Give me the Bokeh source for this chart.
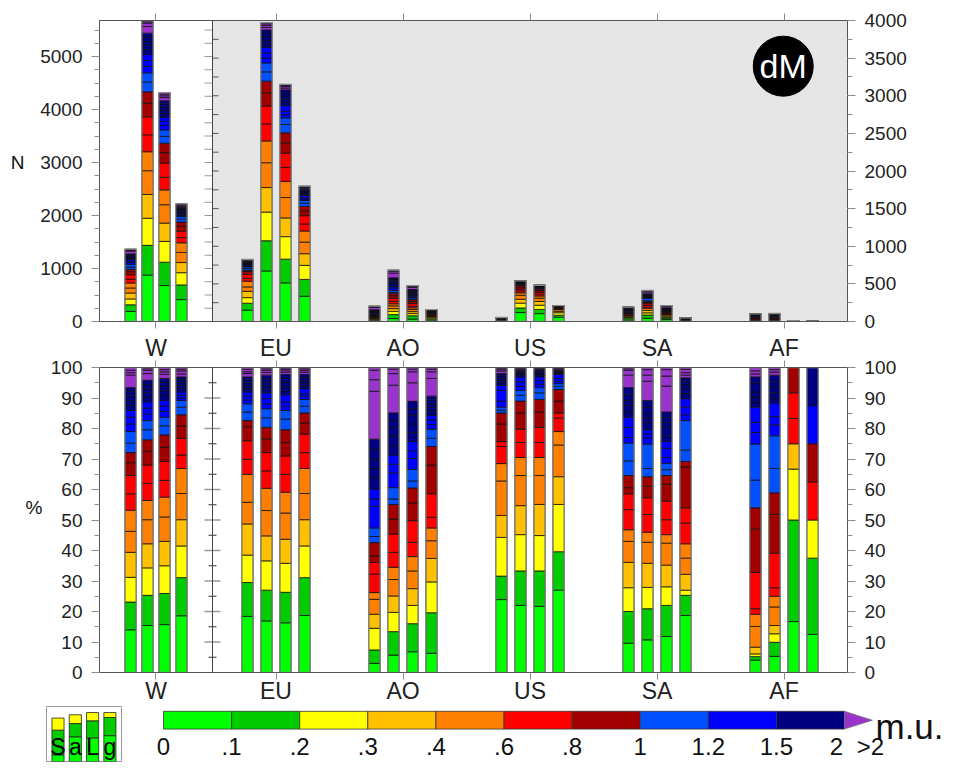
import numpy as np
from bokeh.plotting import figure
from bokeh.models import (Range1d, LinearAxis, FixedTicker, SingleIntervalTicker,
                          BoxAnnotation, Span, Label, ColumnDataSource)
from bokeh.layouts import column, row
from bokeh.embed import file_html
from bokeh.resources import INLINE
from bokeh.core.properties import value

# ---------------------------------------------------------------- data
regions = ["W", "EU", "AO", "US", "SA", "AF"]

# number of cases per bar (4 bars per region)
N_W = [1366, 5680, 4320, 2220]
N_EU = [824, 3973, 3150, 1798]
N_AO = [203, 682, 478, 159]
N_US = [53, 540, 482, 212]
N_SA = [190, 412, 212, 49]
N_AF = [102, 106, 12, 8]

# upper edges of the m.u. bins (last bin: > 4)
bin_edges = [.1, .2, .3, .4, .5, .6, .7, .8, .9, 1.0, 1.1, 1.2, 1.3, 1.4, 1.5,
             1.6, 1.7, 1.8, 1.9, 2.0, 2.5, 3.0, 4.0]

# cumulative percentage of cases at each bin upper edge
cum_W = [
    [14.0, 23.1, 31.2, 39.4, 46.3, 53.2, 58.6, 64.6, 68.8, 72.1, 75.2, 79.0, 81.5, 83.7, 85.9, 87.6, 89.2, 90.7, 92.1, 93.4, 97.5, 98.3, 99.1],
    [15.4, 25.3, 34.3, 42.2, 50.1, 56.4, 62.0, 68.0, 72.5, 76.3, 79.6, 82.6, 84.8, 86.7, 88.7, 90.3, 91.8, 93.0, 94.4, 95.8, 98.0, 99.1, 99.6],
    [15.7, 25.9, 35.0, 43.0, 51.0, 57.5, 63.0, 69.2, 73.8, 77.9, 80.9, 83.7, 85.6, 87.4, 89.2, 90.8, 92.4, 93.8, 95.1, 96.4, 97.8, 98.6, 99.3],
    [18.6, 31.1, 41.5, 50.1, 58.7, 66.9, 71.3, 76.8, 80.9, 84.5, 87.0, 89.2, 90.0, 90.9, 92.0, 93.2, 94.2, 95.1, 96.0, 96.9, 97.9, 98.9, 99.5],
]
cum_EU = [
    [18.4, 29.5, 38.5, 48.7, 55.8, 65.0, 69.9, 76.0, 80.6, 82.6, 85.4, 88.1, 89.4, 90.7, 92.0, 93.0, 94.0, 95.0, 96.0, 96.9, 98.0, 98.6, 99.4],
    [16.9, 27.0, 36.6, 44.8, 53.1, 60.4, 66.1, 72.1, 76.5, 80.4, 83.5, 86.5, 88.1, 89.8, 91.7, 92.9, 94.0, 95.2, 96.3, 97.5, 98.4, 99.1, 99.6],
    [16.3, 26.3, 35.8, 43.7, 52.3, 59.1, 65.0, 71.0, 75.4, 79.6, 83.1, 85.9, 87.3, 88.7, 91.1, 92.4, 93.8, 95.1, 96.4, 97.7, 98.5, 99.2, 99.6],
    [18.7, 31.1, 41.5, 50.1, 58.7, 66.9, 72.1, 78.2, 81.8, 85.1, 87.3, 89.5, 90.6, 91.4, 93.1, 94.0, 94.9, 95.8, 96.8, 97.7, 98.5, 99.1, 99.6],
]
cum_AO = [
    [3.0, 7.4, 14.5, 19.1, 24.0, 26.2, 32.3, 36.1, 38.2, 42.6, 44.6, 47.4, 54.5, 56.9, 60.2, 63.9, 66.9, 69.9, 73.2, 76.5, 92.2, 96.0, 99.1],
    [5.7, 13.4, 19.7, 25.1, 30.5, 34.5, 39.4, 45.4, 50.3, 55.1, 56.9, 60.6, 65.5, 68.3, 71.3, 74.3, 77.6, 80.4, 82.6, 85.1, 94.2, 98.0, 99.5],
    [6.8, 16.0, 22.0, 27.5, 33.3, 38.0, 42.7, 49.8, 55.6, 60.5, 62.8, 66.6, 70.2, 72.7, 75.7, 78.7, 81.5, 84.3, 86.5, 88.9, 95.0, 98.6, 99.5],
    [6.3, 19.6, 29.7, 37.4, 43.2, 47.4, 50.9, 58.6, 68.0, 74.1, 76.8, 79.8, 81.3, 82.8, 84.3, 85.6, 86.9, 88.1, 89.4, 90.6, 96.4, 98.6, 99.5],
]
cum_US = [
    [23.9, 31.6, 44.3, 51.5, 62.8, 68.5, 74.1, 75.7, 81.5, 85.1, 86.0, 87.0, 89.0, 92.5, 94.2, 95.0, 95.8, 96.5, 97.3, 98.0, 98.8, 99.3, 99.7],
    [22.0, 33.3, 45.2, 54.7, 64.6, 70.5, 75.4, 79.8, 85.1, 89.0, 90.9, 92.5, 93.9, 95.3, 96.9, 97.4, 97.9, 98.3, 98.7, 99.1, 99.5, 99.7, 99.9],
    [21.7, 33.3, 44.9, 55.1, 64.6, 70.5, 75.4, 80.4, 85.4, 89.5, 91.7, 93.4, 94.5, 95.7, 96.9, 97.4, 97.9, 98.4, 98.9, 99.4, 99.7, 99.9, 100.0],
    [27.0, 39.6, 55.1, 64.2, 74.6, 79.0, 83.4, 85.1, 89.0, 92.8, 93.8, 94.7, 95.5, 96.4, 97.7, 98.0, 98.3, 98.6, 98.9, 99.1, 99.5, 99.7, 99.9],
]
cum_SA = [
    [9.6, 20.0, 27.8, 36.1, 43.0, 46.8, 53.4, 58.6, 60.6, 64.6, 69.4, 75.2, 77.1, 80.4, 83.7, 85.4, 87.6, 89.2, 91.1, 93.4, 97.5, 99.1, 99.6],
    [10.7, 20.9, 27.9, 35.8, 42.7, 46.0, 51.8, 57.3, 61.1, 64.2, 66.9, 74.9, 76.9, 78.2, 79.6, 81.9, 83.5, 84.9, 86.9, 89.2, 95.5, 97.5, 99.3],
    [11.8, 22.0, 28.1, 35.2, 42.4, 45.2, 50.1, 56.2, 61.7, 64.6, 66.5, 68.6, 70.5, 73.5, 75.7, 77.6, 80.4, 82.0, 83.7, 85.4, 93.9, 97.2, 99.3],
    [18.7, 25.3, 27.0, 32.2, 37.5, 42.2, 49.0, 54.0, 67.4, 69.2, 72.9, 82.6, 84.5, 87.0, 89.8, 91.4, 93.1, 94.3, 95.5, 96.6, 97.5, 98.3, 99.4],
]
cum_AF = [
    [4.1, 5.2, 6.1, 8.3, 15.1, 19.1, 20.9, 32.8, 47.0, 54.0, 63.1, 74.9, 78.7, 82.0, 87.0, 88.7, 90.3, 92.0, 95.0, 96.9, 97.9, 98.9, 100.0],
    [5.3, 9.9, 12.7, 15.4, 21.5, 25.0, 27.8, 39.1, 51.8, 58.9, 66.9, 77.6, 81.2, 83.9, 88.4, 90.0, 91.7, 93.6, 95.5, 97.5, 98.5, 99.3, 100.0],
    [16.7, 50.0, 66.7, 75.0, 75.0, 75.0, 83.3, 91.7, 91.7, 100.0, 100.0, 100.0, 100.0, 100.0, 100.0, 100.0, 100.0, 100.0, 100.0, 100.0, 100.0, 100.0, 100.0],
    [12.5, 37.5, 50.0, 50.0, 50.0, 50.0, 50.0, 62.5, 62.5, 75.0, 75.0, 75.0, 87.5, 87.5, 87.5, 100.0, 100.0, 100.0, 100.0, 100.0, 100.0, 100.0, 100.0],
]

# colour classes (colour bar)
class_labels = ["0", ".1", ".2", ".3", ".4", ".6", ".8", "1", "1.2", "1.5", "2"]
class_colors = ["#00FF00", "#00CC00", "#FFFF00", "#FFC000", "#FF8000", "#FF0000",
                "#A00000", "#0050FF", "#0000FF", "#000080", "#9933CC"]
# class of every m.u. bin (24 bins)
bin_class = [0, 1, 2, 3, 4, 4, 5, 5, 6, 6, 7, 7, 8, 8, 8, 9, 9, 9, 9, 9, 10, 10, 10, 10]

# small legend inset (cumulative % of the three lowest classes)
leg_letters = ["S", "a", "L", "g"]
leg_cum = [[12, 57, 79], [45, 69, 85], [43, 74, 89], [47, 80, 89]]

N_all = [N_W, N_EU, N_AO, N_US, N_SA, N_AF]
cum_all = [cum_W, cum_EU, cum_AO, cum_US, cum_SA, cum_AF]

# ---------------------------------------------------------------- geometry
FONT = "Liberation Sans"
PX = 127.0                      # pixels per region width
W_WIDTH = 113.0 / PX            # W region is narrower
centers = [round(-W_WIDTH / 2, 4)] + [i + 0.5 for i in range(5)]
gscale = [W_WIDTH] + [1.0] * 5
BAR_STEP = 0.15
BAR_W = 0.09
offsets = [-1.5, -0.5, 0.5, 1.5]


def bar_segments(panel):
    out = {"default": dict(l=[], r=[], b=[], t=[], c=[]),
           "right": dict(l=[], r=[], b=[], t=[], c=[])}
    outl = {"default": dict(l=[], r=[], b=[], t=[]),
            "right": dict(l=[], r=[], b=[], t=[])}
    for g in range(6):
        rng = "default" if (g == 0 or panel == "bottom") else "right"
        for j in range(4):
            xc = centers[g] + offsets[j] * BAR_STEP * gscale[g]
            scale = (N_all[g][j] / 100.0) if panel == "top" else 1.0
            c = [0.0] + list(cum_all[g][j]) + [100.0]
            for k in range(len(c) - 1):
                lo, hi = c[k], c[k + 1]
                if hi - lo <= 1e-9:
                    continue
                d = out[rng]
                d["l"].append(xc - BAR_W / 2); d["r"].append(xc + BAR_W / 2)
                d["b"].append(lo * scale); d["t"].append(hi * scale)
                d["c"].append(class_colors[bin_class[k]])
            o = outl[rng]
            o["l"].append(xc - BAR_W / 2); o["r"].append(xc + BAR_W / 2)
            o["b"].append(0.0); o["t"].append(100.0 * scale)
    return out, outl


def base_fig(height, top, bottom, y_range):
    p = figure(width=971, height=height, x_range=Range1d(-W_WIDTH, 5),
               y_range=y_range, x_axis_location=None, y_axis_location=None,
               toolbar_location=None, output_backend="svg",
               min_border_left=99, min_border_right=124,
               min_border_top=top, min_border_bottom=bottom)
    p.outline_line_color = "#555555"
    p.grid.visible = False
    p.background_fill_color = "white"
    p.border_fill_color = "white"
    return p


def style_axis(ax, font_size="19px", standoff=9, tick_out=8, minor_out=5):
    ax.axis_line_color = "#555555"
    ax.major_tick_line_color = "#8c8c8c"
    ax.minor_tick_line_color = "#8c8c8c"
    ax.major_tick_out = tick_out
    ax.major_tick_in = 0
    ax.minor_tick_out = minor_out
    ax.minor_tick_in = 0
    ax.major_label_text_font = FONT
    ax.major_label_text_font_size = font_size
    ax.major_label_text_color = "#222222"
    ax.major_label_standoff = standoff


def name_axis(p, pos, text, standoff):
    """an extra, line-less left axis that only carries the axis name"""
    ax = LinearAxis(ticker=FixedTicker(ticks=[pos]),
                    major_label_overrides={pos: text})
    ax.axis_line_color = None
    ax.major_tick_line_color = None
    ax.minor_tick_line_color = None
    ax.major_tick_out = 0
    ax.major_tick_in = 0
    ax.major_label_text_font = FONT
    ax.major_label_text_font_size = "19px"
    ax.major_label_text_color = "#111111"
    ax.major_label_standoff = standoff
    p.add_layout(ax, "left")


def x_axis(p, side, labels, standoff=0):
    ax = LinearAxis(ticker=FixedTicker(ticks=centers),
                    major_label_overrides={c: (regions[i] if labels else "")
                                           for i, c in enumerate(centers)})
    if labels:
        style_axis(ax, font_size="23px", standoff=standoff, tick_out=7)
    else:
        style_axis(ax, font_size="0px", standoff=0, tick_out=7)
    p.add_layout(ax, side)


def draw_bars(p, segs, outl):
    for rng in ("default", "right"):
        if not segs[rng]["l"]:
            continue
        src = ColumnDataSource(segs[rng])
        kw = {} if rng == "default" else {"y_range_name": "right"}
        p.quad(left="l", right="r", bottom="b", top="t", fill_color="c",
               line_color="#111111", line_width=0.8, source=src, **kw)
        p.quad(left="l", right="r", bottom="b", top="t",
               source=ColumnDataSource(outl[rng]), fill_color=None,
               line_color="#8a8a8a", line_width=1.3, **kw)


# ---------------------------------------------------------------- top panel
H1 = 331
top_max = max(N_W)
p1 = base_fig(H1, 20, 10, Range1d(0, top_max))
p1.extra_y_ranges = {"right": Range1d(0, 4000)}
p1.add_layout(BoxAnnotation(left=0, fill_color="#e5e5e5", fill_alpha=1.0,
                            line_alpha=0, level="underlay"))

axl = LinearAxis(ticker=SingleIntervalTicker(interval=1000, num_minor_ticks=4))
style_axis(axl)
p1.add_layout(axl, "left")
name_axis(p1, 3000, "N", 13)
axr = LinearAxis(y_range_name="right",
                 ticker=SingleIntervalTicker(interval=500, num_minor_ticks=2))
style_axis(axr)
p1.add_layout(axr, "right")
x_axis(p1, "above", False)
x_axis(p1, "below", False)

p1.add_layout(Span(location=0, dimension="height", line_color="#444444", line_width=1))
# ticks on the W / regions divider
lt = np.arange(250, top_max, 250)
p1.segment(x0=[-8 / PX] * len(lt), x1=[0] * len(lt), y0=lt, y1=lt,
           line_color="#9a9a9a", line_width=1)
rt = np.arange(250, 4000, 250)
p1.segment(x0=[0] * len(rt), x1=[6 / PX] * len(rt), y0=rt, y1=rt,
           line_color="#555555", line_width=1, y_range_name="right")

segs, outl = bar_segments("top")
draw_bars(p1, segs, outl)

p1.scatter(x=[4.494], y=[3393], size=60, marker="circle", fill_color="black",
           line_color="black", y_range_name="right")
p1.add_layout(Label(x=4.494, y=3393, y_range_name="right", text="dM",
                    text_color="white", text_font=FONT, text_font_size="34px",
                    text_align="center", text_baseline="middle"))

# ---------------------------------------------------------------- bottom panel
H2 = 375
p2 = base_fig(H2, 36, 34, Range1d(0, 100))
for side in ("left", "right"):
    ax = LinearAxis(ticker=SingleIntervalTicker(interval=10, num_minor_ticks=2))
    style_axis(ax)
    p2.add_layout(ax, side)
name_axis(p2, 54, "%", 5)
x_axis(p2, "above", True, standoff=0)
x_axis(p2, "below", True, standoff=-2)
p2.add_layout(Span(location=0, dimension="height", line_color="#444444", line_width=1))
mt = np.arange(10, 100, 10)
p2.segment(x0=[-8 / PX] * len(mt), x1=[8 / PX] * len(mt), y0=mt, y1=mt,
           line_color="#9a9a9a", line_width=1.5)
nt = np.arange(5, 100, 10)
p2.segment(x0=[-4 / PX] * len(nt), x1=[4 / PX] * len(nt), y0=nt, y1=nt,
           line_color="#333333", line_width=1)

segs2, outl2 = bar_segments("bottom")
draw_bars(p2, segs2, outl2)

# ---------------------------------------------------------------- legend inset
H3 = 771 - H1 - H2
lg = figure(width=140, height=H3, x_range=Range1d(-0.165, 4.17), y_range=Range1d(0, 100),
            x_axis_location=None, y_axis_location=None, toolbar_location=None,
            output_backend="svg", min_border_left=46, min_border_right=19,
            min_border_top=0, min_border_bottom=10)
lg.grid.visible = False
lg.outline_line_color = "#999999"
ll, lr, lb, lt_, lc = [], [], [], [], []
for i, cm in enumerate(leg_cum):
    c = [0] + cm
    for k in range(3):
        ll.append(i + 0.5 - 0.35); lr.append(i + 0.5 + 0.35)
        lb.append(c[k]); lt_.append(c[k + 1]); lc.append(class_colors[k])
lg.quad(left=ll, right=lr, bottom=lb, top=lt_, fill_color=lc,
        line_color="#222222", line_width=0.8)
lg.text(x=[i + 0.5 for i in range(4)], y=[26] * 4, text=leg_letters,
        text_font=value(FONT), text_font_size="23px", text_color="black",
        text_align="center", text_baseline="middle")

# ---------------------------------------------------------------- colour bar
CBW = 68.1  # px per class box
top_gap = 711.7 - (H1 + H2)
cb = figure(width=831, height=H3, x_range=Range1d(-23 / CBW, (831 - 23) / CBW),
            y_range=Range1d(-38.3 / 21, 1 + top_gap / 21),
            x_axis_location=None, y_axis_location=None, toolbar_location=None,
            output_backend="svg", min_border=0)
cb.grid.visible = False
cb.outline_line_color = None
nbox = len(class_colors) - 1
cb.quad(left=list(range(nbox)), right=list(range(1, nbox + 1)), bottom=0, top=1,
        fill_color=class_colors[:nbox], line_color="#333333", line_width=0.8)
cb.patch(x=[nbox, nbox, nbox + 0.41], y=[0, 1, 0.5], fill_color=class_colors[-1],
         line_color="#777777", line_width=0.8)
lab_x = list(range(nbox)) + [nbox - 0.12]
cb.text(x=lab_x, y=[-0.99] * len(lab_x), text=class_labels,
        text_font=value(FONT), text_font_size="24px", text_color="#111111",
        text_align="center", text_baseline="middle")
cb.text(x=[nbox + 0.38], y=[-0.99], text=[">2"], text_font=value(FONT),
        text_font_size="24px", text_color="#111111", text_align="center",
        text_baseline="middle")
cb.text(x=[nbox + 0.455], y=[0.15], text=["m.u."], text_font=value(FONT),
        text_font_size="35px", text_color="#111111", text_align="left",
        text_baseline="alphabetic")

layout = column(p1, p2, row(lg, cb))
open("out.html", "w").write(file_html(layout, INLINE))
